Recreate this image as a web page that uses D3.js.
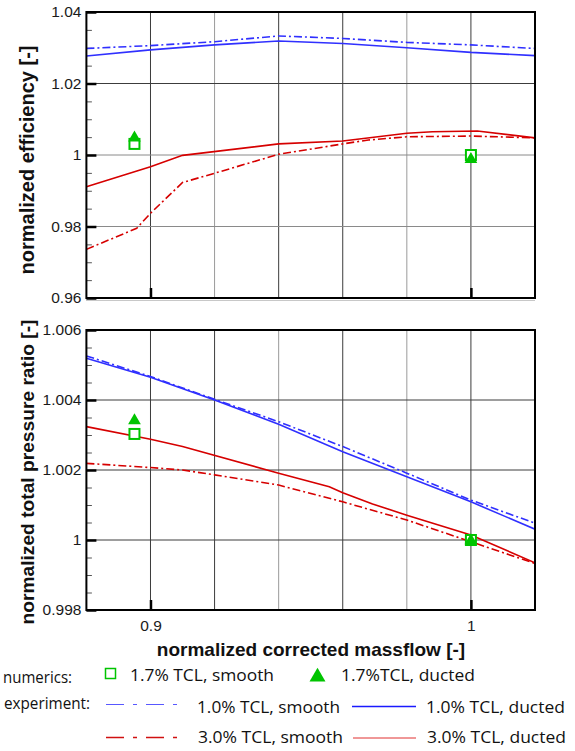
<!DOCTYPE html>
<html>
<head>
<meta charset="utf-8">
<script src="https://cdn.jsdelivr.net/npm/d3@7"></script>
<style>
  body { margin: 0; background: #fff; }
  svg { display: block; }
  .tick text { font-family: "Liberation Sans", Arial, sans-serif; font-size: 15.5px; fill: #1a1a1a; }
  .title { font-family: "Liberation Sans", Arial, sans-serif; font-weight: bold; fill: #111; }
  .leg { font-family: "Open Sans", sans-serif; font-size: 17px; fill: #111; }
</style>
</head>
<body>
<svg width="575" height="751"></svg>
<script>
// massflow axis
const xTickValues = [0.9, 1.0];
const xTickLabels = ["0.9", "1"];
const xGridValues = [0.90, 0.92, 0.94, 0.96, 0.98, 1.00];

// efficiency panel
const effTicks = [0.96, 0.98, 1.00, 1.02, 1.04];
const effTickLabels = ["0.96", "0.98", "1", "1.02", "1.04"];
const effMinor = d3.range(0.965, 1.04, 0.005);

const eff10X = [0.88, 0.90, 0.92, 0.94, 0.96, 0.98, 1.00, 1.02];
const eff10Smooth = [1.0298, 1.0306, 1.0317, 1.0333, 1.0326, 1.0315, 1.0308, 1.0298];
const eff10Ducted = [1.0277, 1.0294, 1.0308, 1.0319, 1.0312, 1.0300, 1.0287, 1.0278];
const eff30DuctedX = [0.88, 0.90, 0.910, 0.94, 0.96, 0.98, 0.988, 1.002, 1.02];
const eff30Ducted = [0.9911, 0.9967, 0.9999, 1.0031, 1.0039, 1.0061, 1.0065, 1.0067, 1.0048];
const eff30SmoothX = [0.88, 0.8957, 0.90, 0.910, 0.92, 0.94, 0.96, 0.968, 0.98, 1.00, 1.02];
const eff30Smooth = [0.9736, 0.9795, 0.9837, 0.9923, 0.9949, 1.0002, 1.0031, 1.0042, 1.0051, 1.0053, 1.0048];

// pressure ratio panel
const prTicks = [0.998, 1.000, 1.002, 1.004, 1.006];
const prTickLabels = ["0.998", "1", "1.002", "1.004", "1.006"];
const prMinor = d3.range(0.9985, 1.006, 0.0005);

const pr10X = [0.88, 0.90, 0.92, 0.94, 0.96, 0.98, 1.00, 1.02];
const pr10Smooth = [1.00526, 1.00467, 1.00402, 1.00338, 1.00267, 1.00191, 1.00114, 1.00048];
const pr10Ducted = [1.00519, 1.00465, 1.00400, 1.00331, 1.00252, 1.00181, 1.00109, 1.00031];
const pr30DuctedX = [0.88, 0.90, 0.910, 0.94, 0.9558, 0.96, 0.9693, 0.98, 1.00, 1.02];
const pr30Ducted = [1.00324, 1.00288, 1.00267, 1.00191, 1.00152, 1.00135, 1.00103, 1.00071, 1.00014, 0.99935];
const pr30SmoothX = [0.88, 0.90, 0.910, 0.92, 0.94, 0.96, 0.98, 1.00, 1.02];
const pr30Smooth = [1.00219, 1.00207, 1.00200, 1.00186, 1.00157, 1.00109, 1.00057, 0.99995, 0.99933];

// numerics (1.7% TCL)
const numX = [0.895, 1.0];
const effNumSmooth = [1.0031, 1.0000];
const effNumDucted = [1.0051, 0.9991];
const prNumSmooth = [1.00303, 1.00000];
const prNumDucted = [1.00344, 1.00001];

const BLUE = "#3030ff", RED = "#d60000", GREEN = "#00c400";
const DASHDOT = "8,3,2,3";

var svg = d3.select("svg");
var x = d3.scaleLinear().domain([0.88, 1.02]).range([86.4, 535]);

// faint line under the top panel
svg.append("line").attr("x1", 86).attr("x2", 535).attr("y1", 300.5).attr("y2", 300.5)
  .attr("stroke", "#c8c8c8").attr("stroke-width", 1);

function panel(opts) {
  var y = d3.scaleLinear().domain(opts.yDomain).range([opts.bottom, opts.top]);
  var w = x.range()[1] - x.range()[0], h = opts.bottom - opts.top;
  var g = svg.append("g");
  var clipId = "clip" + opts.top;
  g.append("clipPath").attr("id", clipId).append("rect")
    .attr("x", x.range()[0]).attr("y", opts.top).attr("width", w).attr("height", h);

  // grid
  g.append("g").selectAll("line").data(xGridValues).enter().append("line")
    .attr("x1", d => x(d)).attr("x2", d => x(d))
    .attr("y1", opts.top).attr("y2", opts.bottom)
    .attr("stroke", (d, i) => opts.grayX.includes(i) ? "#9a9a9a" : "#3c3c3c").attr("stroke-width", 1);
  g.append("g").selectAll("line").data(opts.yTicks.slice(1, -1)).enter().append("line")
    .attr("x1", x.range()[0]).attr("x2", x.range()[1])
    .attr("y1", d => y(d)).attr("y2", d => y(d))
    .attr("stroke", (d, i) => opts.grayY.includes(i) ? "#8a8a8a" : "#3c3c3c").attr("stroke-width", 1);

  // minor ticks
  var minorAxis = g.append("g").attr("transform", `translate(${x.range()[0]},0)`)
    .call(d3.axisLeft(y).tickValues(opts.minor).tickSize(-5.5).tickFormat(""));
  minorAxis.select(".domain").remove();
  minorAxis.selectAll("line").attr("stroke", "#555");

  // major y ticks + labels
  var yAxis = g.append("g").attr("transform", `translate(${x.range()[0]},0)`)
    .call(d3.axisLeft(y).tickValues(opts.yTicks).tickSize(-10).tickPadding(5)
      .tickFormat((d, i) => opts.yLabels[i]));
  yAxis.select(".domain").remove();
  yAxis.selectAll("line").attr("stroke", "#000").attr("stroke-width", 2.5);

  // x ticks
  var xAxis = g.append("g").attr("transform", `translate(0,${opts.bottom})`)
    .call(d3.axisBottom(x).tickValues(xTickValues).tickSize(-10).tickPadding(10)
      .tickFormat((d, i) => xTickLabels[i]));
  xAxis.select(".domain").remove();
  xAxis.selectAll("line").attr("stroke", "#000").attr("stroke-width", 2.5);
  if (!opts.showX) xAxis.selectAll("text").remove();

  // curves
  var line = d3.line().x(d => x(d[0])).y(d => y(d[1]));
  var curves = g.append("g").attr("clip-path", `url(#${clipId})`);
  opts.series.forEach(s => {
    curves.append("path").datum(d3.zip(s.x, s.y))
      .attr("d", line).attr("fill", "none")
      .attr("stroke", s.color).attr("stroke-width", 1.6)
      .attr("stroke-dasharray", s.dash || null);
  });

  // numerics
  curves.selectAll(".sq").data(d3.zip(numX, opts.numSmooth)).enter().append("rect")
    .attr("x", d => x(d[0]) - 5).attr("y", d => y(d[1]) - 5)
    .attr("width", 10).attr("height", 10)
    .attr("fill", "#fff").attr("stroke", GREEN).attr("stroke-width", 2);
  curves.selectAll(".tri").data(d3.zip(numX, opts.numDucted)).enter().append("path")
    .attr("d", d3.symbol(d3.symbolTriangle, 70))
    .attr("transform", d => `translate(${x(d[0])},${y(d[1]) + 1})`)
    .attr("fill", GREEN);

  // frame
  g.append("rect").attr("x", x.range()[0]).attr("y", opts.top).attr("width", w).attr("height", h)
    .attr("fill", "none").attr("stroke", "#000").attr("stroke-width", 2);

  // y title
  svg.append("text").attr("class", "title")
    .attr("transform", `translate(34,${opts.titleY}) rotate(-90)`)
    .attr("text-anchor", "middle").style("font-size", opts.titleSize + "px")
    .text(opts.title);
}

panel({
  top: 12, bottom: 298, yDomain: [0.96, 1.04],
  yTicks: effTicks, yLabels: effTickLabels, minor: effMinor,
  grayX: [1, 4], grayY: [0, 1],
  numSmooth: effNumSmooth, numDucted: effNumDucted, showX: false,
  title: "normalized efficiency [-]", titleY: 160, titleSize: 20,
  series: [
    {x: eff10X, y: eff10Smooth, color: BLUE, dash: DASHDOT},
    {x: eff10X, y: eff10Ducted, color: BLUE},
    {x: eff30SmoothX, y: eff30Smooth, color: RED, dash: DASHDOT},
    {x: eff30DuctedX, y: eff30Ducted, color: RED}
  ]
});

panel({
  top: 330, bottom: 610, yDomain: [0.998, 1.006],
  yTicks: prTicks, yLabels: prTickLabels, minor: prMinor,
  grayX: [2, 4], grayY: [],
  numSmooth: prNumSmooth, numDucted: prNumDucted, showX: true,
  title: "normalized total pressure ratio [-]", titleY: 472, titleSize: 19.2,
  series: [
    {x: pr10X, y: pr10Smooth, color: BLUE, dash: DASHDOT},
    {x: pr10X, y: pr10Ducted, color: BLUE},
    {x: pr30SmoothX, y: pr30Smooth, color: RED, dash: DASHDOT},
    {x: pr30DuctedX, y: pr30Ducted, color: RED}
  ]
});

svg.append("text").attr("class", "title").attr("x", 311).attr("y", 656)
  .attr("text-anchor", "middle").style("font-size", "19px")
  .text("normalized corrected massflow [-]");

// legend
var leg = svg.append("g");
function legText(t, x0, yb, len) {
  leg.append("text").attr("class", "leg").attr("x", x0).attr("y", yb)
    .attr("textLength", len).attr("lengthAdjust", "spacingAndGlyphs").text(t);
}
function legLine(x1, x2, yy, color, dash, sw) {
  leg.append("line").attr("x1", x1).attr("x2", x2).attr("y1", yy).attr("y2", yy)
    .attr("stroke", color).attr("stroke-width", sw).attr("stroke-dasharray", dash || null);
}
legText("numerics:", 3, 683, 69);
legText("experiment:", 4, 709, 86);
leg.append("rect").attr("x", 105.5).attr("y", 668.5).attr("width", 10).attr("height", 10)
  .attr("fill", "#fff").attr("stroke", GREEN).attr("stroke-width", 1.5);
legText("1.7% TCL, smooth", 130, 681, 144);
leg.append("path").attr("d", d3.symbol(d3.symbolTriangle, 110))
  .attr("transform", "translate(317.5,677)").attr("fill", GREEN);
legText("1.7%TCL, ducted", 341, 681, 134);

legLine(106, 183, 704.5, "#5858ff", "18,9,4,9", 1);
legText("1.0% TCL, smooth", 197, 713, 143);
legLine(352, 416, 706.5, "#1a1aff", null, 1.5);
legText("1.0% TCL, ducted", 426, 713, 139);

legLine(106, 183, 737.5, "#d01010", "18,9,4,9", 1.5);
legText("3.0% TCL, smooth", 198, 743, 145);
legLine(353, 416, 738, "#e03030", null, 1);
legText("3.0% TCL, ducted", 427, 743, 139);
</script>
</body>
</html>
